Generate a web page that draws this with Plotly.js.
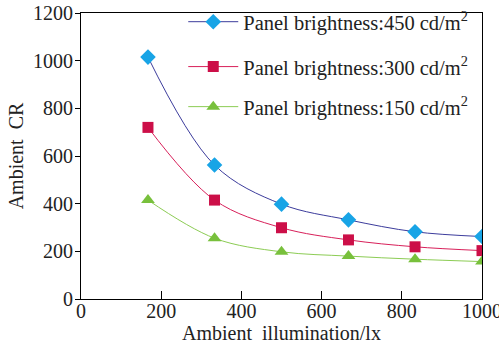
<!DOCTYPE html>
<html><head><meta charset="utf-8">
<script src="https://cdn.plot.ly/plotly-3.0.1.min.js"></script>
<style>html,body{margin:0;padding:0;background:#fff}</style>
</head><body>
<div id="chart" style="width:499px;height:344px"></div>
<script>
const illumination = [167, 333, 500, 667, 833, 1000];
const cr450 = [1015, 562, 398, 332, 282, 262];
const cr300 = [720, 415, 299, 248, 219, 203];
const cr150 = [415, 255, 198, 180, 167, 157];
const seriesNames = [
  'Panel brightness:450 cd/m<sup>2</sup>',
  'Panel brightness:300 cd/m<sup>2</sup>',
  'Panel brightness:150 cd/m<sup>2</sup>'
];
const xTicks = [0, 200, 400, 600, 800, 1000];
const yTicks = [0, 200, 400, 600, 800, 1000, 1200];
const font = 'Liberation Serif, Times New Roman, serif';

const traces = [
  {x: illumination, y: cr450, name: seriesNames[0], mode: 'lines+markers', legend: 'legend',
   line: {shape: 'spline', color: '#3c3c9c', width: 1},
   marker: {symbol: 'diamond', size: 12, color: '#18a4e6'}},
  {x: illumination, y: cr300, name: seriesNames[1], mode: 'lines+markers', legend: 'legend2',
   line: {shape: 'spline', color: '#d8205a', width: 1},
   marker: {symbol: 'square', size: 11, color: '#cc0f48'}},
  {x: illumination, y: cr150, name: seriesNames[2], mode: 'lines+markers', legend: 'legend3',
   line: {shape: 'spline', color: '#8ccc54', width: 1},
   marker: {symbol: 'triangle-up', size: 12, color: '#78c03c'}}
];
const legBase = {x: 0.255, xanchor: 'left', yanchor: 'middle', bgcolor: 'rgba(0,0,0,0)',
  font: {family: font, size: 20.5, color: '#222'}, itemwidth: 50, borderwidth: 0};
const layout = {
  width: 499, height: 344,
  margin: {l: 81, r: 17, t: 13, b: 45, autoexpand: false},
  paper_bgcolor: '#fff', plot_bgcolor: '#fff',
  font: {family: font, color: '#222'},
  showlegend: true,
  legend: Object.assign({}, legBase, {y: 0.969}),
  legend2: Object.assign({}, legBase, {y: 0.812}),
  legend3: Object.assign({}, legBase, {y: 0.672}),
  xaxis: {range: [0, 1000], tickvals: xTicks, ticks: 'inside', ticklen: 8, automargin: false,
    ticklabeloverflow: 'allow', ticklabelstandoff: -6,
    tickcolor: '#000', showline: true, linecolor: '#000', linewidth: 1.2, mirror: true,
    showgrid: false, zeroline: false, tickfont: {family: font, size: 20, color: '#222'},
    title: {text: 'Ambient\u00a0\u00a0illumination/lx', font: {family: font, size: 20, color: '#222'}, standoff: 7}},
  yaxis: {range: [0, 1200], tickvals: yTicks, ticks: 'outside', ticklen: 5, automargin: false,
    ticklabeloverflow: 'allow', ticklabelstandoff: -2,
    tickcolor: '#000', showline: true, linecolor: '#000', linewidth: 1.2, mirror: true,
    showgrid: false, zeroline: false, tickfont: {family: font, size: 20, color: '#222'},
    title: {text: 'Ambient\u00a0\u00a0CR', font: {family: font, size: 20, color: '#222'}, standoff: 3}}
};
Plotly.newPlot('chart', traces, layout, {displayModeBar: false});
</script>
</body></html>
